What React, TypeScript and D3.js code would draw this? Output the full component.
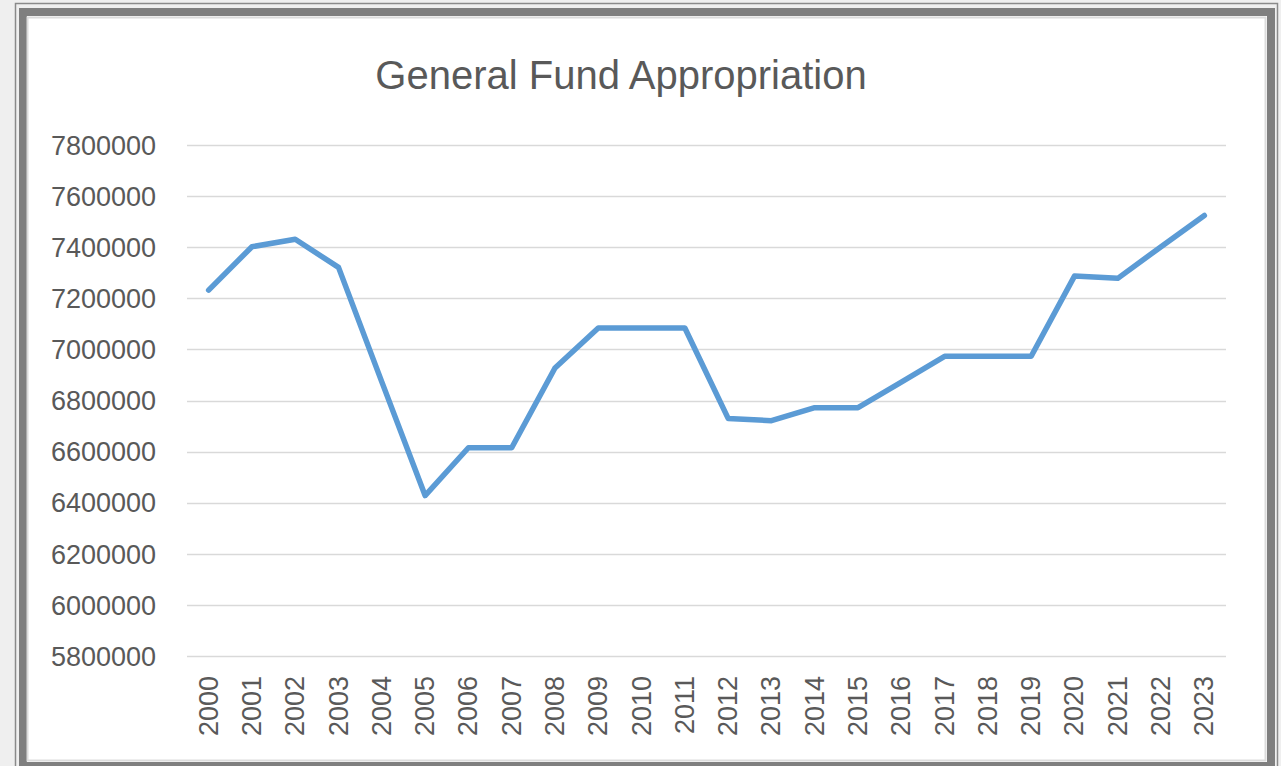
import React, { useEffect, useRef } from 'react';
import * as d3 from 'd3';

const years: string[] = [
  '2000', '2001', '2002', '2003', '2004', '2005', '2006', '2007',
  '2008', '2009', '2010', '2011', '2012', '2013', '2014', '2015',
  '2016', '2017', '2018', '2019', '2020', '2021', '2022', '2023',
];

const appropriation: number[] = [
  7232000, 7402000, 7431000, 7321000, 6873000, 6428000, 6615000, 6615000,
  6927000, 7084000, 7084000, 7084000, 6730000, 6721000, 6772000, 6772000,
  6872000, 6973000, 6973000, 6973000, 7287000, 7278000, 7402000, 7524000,
];

const yTicks: number[] = [
  5800000, 6000000, 6200000, 6400000, 6600000, 6800000,
  7000000, 7200000, 7400000, 7600000, 7800000,
];

const title = 'General Fund Appropriation';

export default function App() {
  const svgRef = useRef<SVGSVGElement | null>(null);

  useEffect(() => {
    if (!svgRef.current) return;
    const svg = d3.select(svgRef.current);
    svg.selectAll('*').remove();

    const W = 1281;
    const H = 766;
    const plot = { left: 187, right: 1226, top: 145, bottom: 656 };
    const font = "'Liberation Sans', Arial, sans-serif";
    const textColor = '#595959';

    // page background + slide frame
    svg.append('rect').attr('width', W).attr('height', H).attr('fill', '#efefef');
    svg.append('rect')
      .attr('x', 15.5).attr('y', 3.5)
      .attr('width', 1262).attr('height', 780)
      .attr('fill', 'none').attr('stroke', '#8a8a8a').attr('stroke-width', 1.5);
    svg.append('rect')
      .attr('x', 23).attr('y', 12)
      .attr('width', 1248).attr('height', 754)
      .attr('fill', '#ffffff').attr('stroke', '#7f7f7f').attr('stroke-width', 8);
    svg.append('rect')
      .attr('x', 27.5).attr('y', 17.5)
      .attr('width', 1238).attr('height', 743)
      .attr('fill', 'none').attr('stroke', '#dcdcdc').attr('stroke-width', 2);

    const x = d3.scalePoint<string>()
      .domain(years)
      .range([plot.left, plot.right])
      .padding(0.5);

    const y = d3.scaleLinear()
      .domain([5800000, 7800000])
      .range([plot.bottom, plot.top]);

    // gridlines
    svg.append('g')
      .selectAll('line')
      .data(yTicks)
      .enter()
      .append('line')
      .attr('x1', plot.left)
      .attr('x2', plot.right)
      .attr('y1', (d) => Math.round(y(d)) + 0.5)
      .attr('y2', (d) => Math.round(y(d)) + 0.5)
      .attr('stroke', '#d9d9d9')
      .attr('stroke-width', 1.5);

    // y labels
    svg.append('g')
      .selectAll('text')
      .data(yTicks)
      .enter()
      .append('text')
      .attr('x', 156)
      .attr('y', (d) => y(d))
      .attr('dy', '0.36em')
      .attr('text-anchor', 'end')
      .attr('font-family', font)
      .attr('font-size', 27)
      .attr('fill', textColor)
      .text((d) => String(d));

    // x labels (rotated)
    svg.append('g')
      .selectAll('text')
      .data(years)
      .enter()
      .append('text')
      .attr('transform', (d) => `translate(${(x(d) as number) + 9},676) rotate(-90)`)
      .attr('text-anchor', 'end')
      .attr('font-family', font)
      .attr('font-size', 27)
      .attr('fill', textColor)
      .text((d) => d);

    // series line
    const line = d3.line<number>()
      .x((d, i) => x(years[i]) as number)
      .y((d) => y(d));

    svg.append('path')
      .datum(appropriation)
      .attr('d', line)
      .attr('fill', 'none')
      .attr('stroke', '#5b9bd5')
      .attr('stroke-width', 5.5)
      .attr('stroke-linejoin', 'round')
      .attr('stroke-linecap', 'round');

    // title
    svg.append('text')
      .attr('x', 621)
      .attr('y', 89)
      .attr('text-anchor', 'middle')
      .attr('font-family', font)
      .attr('font-size', 40)
      .attr('fill', textColor)
      .text(title);
  }, []);

  return (
    <div style={{ position: 'absolute', left: 0, top: 0 }}>
      <svg ref={svgRef} width={1281} height={766} style={{ display: 'block' }} />
    </div>
  );
}
